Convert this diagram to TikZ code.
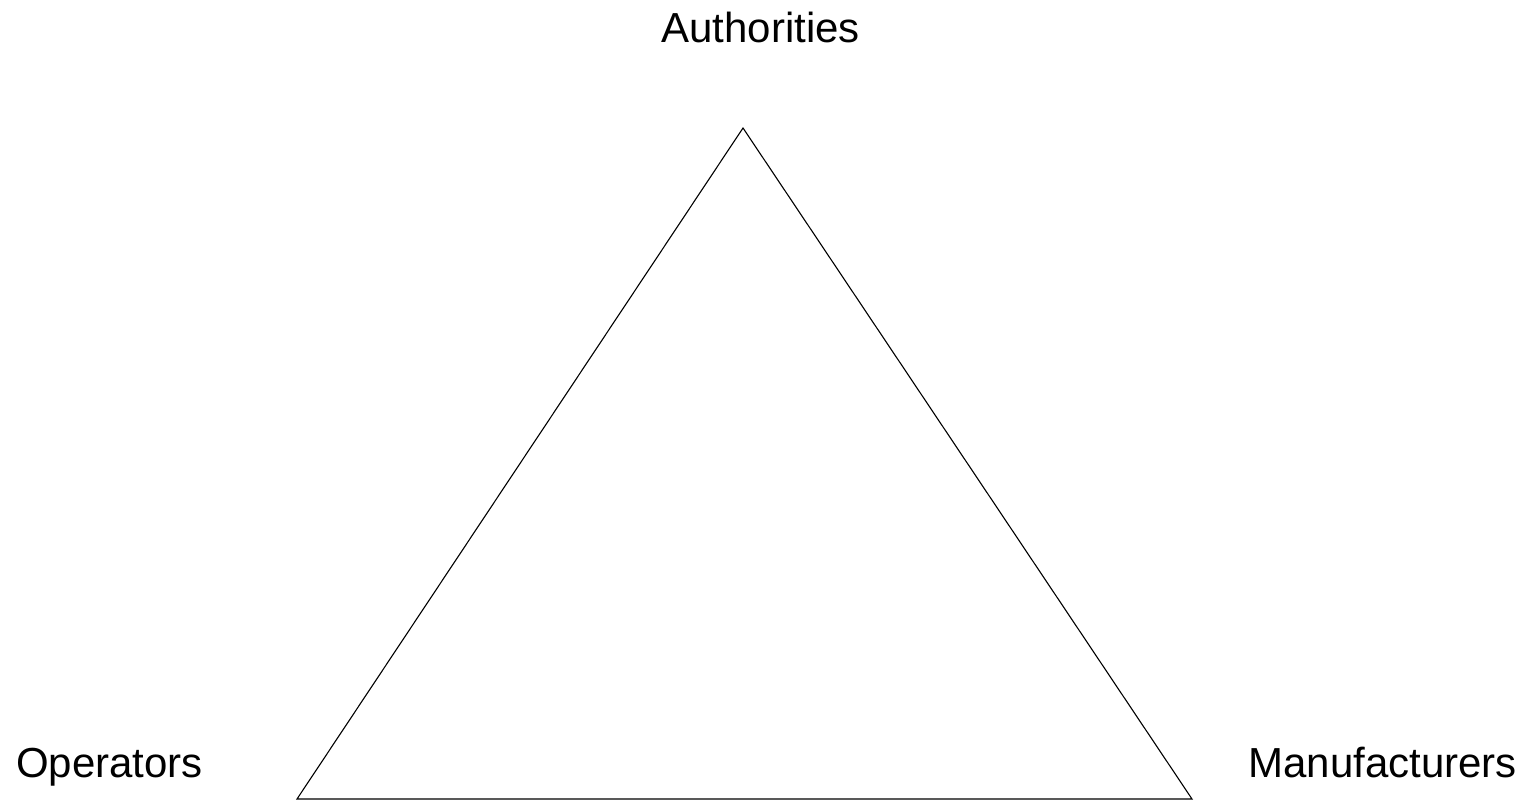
\documentclass[tikz,border=0pt]{standalone}
\usepackage{fontspec}
\setmainfont{Liberation Sans}
\begin{document}
\begin{tikzpicture}[x=1pt,y=-1pt,
  lbl/.style={inner sep=0pt, font=\fontsize{42}{50}\selectfont},
  edge/.style={draw=black, line width=1.1pt, line join=miter}]
\useasboundingbox (0,0) rectangle (1529,801);
\coordinate (apex) at (743,128);
\coordinate (bl) at (297,799);
\coordinate (br) at (1192,799);
\draw[edge] (apex) -- (br) -- (bl) -- cycle;
\node[lbl, anchor=base] (auth) at (760.5,42) {Authorities};
\node[lbl, anchor=base west] (oper) at (16,777) {Operators};
\node[lbl, anchor=base east] (manu) at (1517,777) {Manufacturers};
\end{tikzpicture}
\end{document}
